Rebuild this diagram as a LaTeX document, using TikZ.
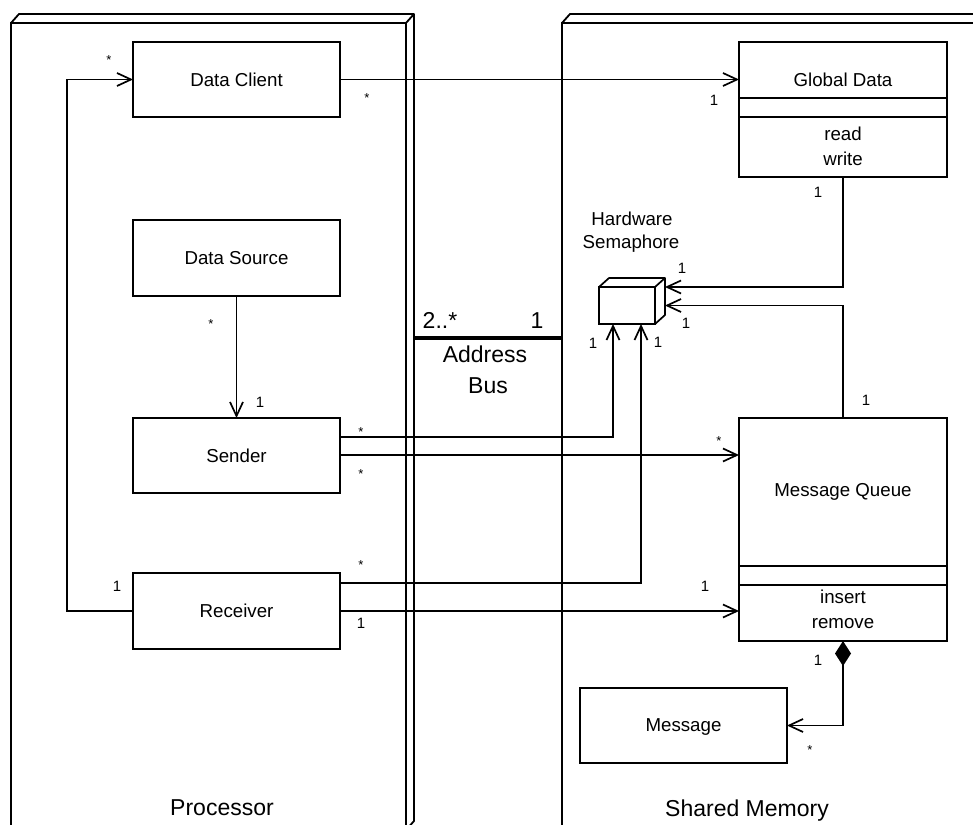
\documentclass[tikz,border=0pt]{standalone}
\usepackage{fontspec}
\setmainfont{Liberation Sans}
\usetikzlibrary{arrows.meta}
\begin{document}
\begin{tikzpicture}[x=1pt,y=-1pt,
  every node/.style={inner sep=0pt, outer sep=0pt},
  box/.style={draw, line width=1.8pt, font=\fontsize{18.7}{22}\selectfont, text depth=0pt},
  boxtxt/.style={font=\fontsize{18.7}{22}\selectfont, anchor=base},
  mult/.style={font=\fontsize{15}{18}\selectfont},
  star/.style={font=\fontsize{13}{15}\selectfont, yshift=-3pt},
  big/.style={font=\fontsize{23}{27}\selectfont, anchor=base},
  conn/.style={line width=1.7pt},
  assoc/.style={conn, -{Straight Barb[length=14pt,width=13pt]}},
  deviceline/.style={line width=1.8pt, line join=round}
]
\useasboundingbox (0,0) rectangle (973,824);
\begin{scope}
\clip (0,0) rectangle (973,824);
% Processor device
\node[box, anchor=north west, minimum width=395pt, minimum height=807pt] (proc) at (11,23) {};
\draw[deviceline] (proc.north west) -- ++(8,-9) -- ++(395,0) -- ++(0,807) -- ++(-8,9);
\draw[deviceline] (proc.north east) -- ++(8,-9);
% Shared memory device
\node[box, anchor=north west, minimum width=450pt, minimum height=807pt] (shm) at (562,23) {};
\draw[deviceline] (shm.north west) -- ++(8,-9) -- ++(450,0);
\end{scope}

% Address bus
\coordinate (busL) at (415,338);
\coordinate (busR) at (shm.west |- 0,338);
\draw[line width=3.5pt] (busL) -- (busR);
\node[big] (b2) at (440,328) {2..*};
\node[big] (b1) at (537,328) {1};
\node[big] (baddr) at (485,362) {Address};
\node[big] (bbus) at (488,393) {Bus};

% Processor classes
\node[box, minimum width=207pt, minimum height=75pt] (dc) at (236.5,79.5) {Data Client};
\node[box, minimum width=207pt, minimum height=76pt] (ds) at (236.5,258) {Data Source};
\node[box, minimum width=207pt, minimum height=75pt] (sn) at (236.5,455.5) {Sender};
\node[box, minimum width=207pt, minimum height=76pt] (rc) at (236.5,611) {Receiver};

% Global Data
\node[box, minimum width=208pt, minimum height=135pt] (gd) at (843,109.5) {};
\draw[line width=1.8pt] (gd.west |- 0,98) -- (gd.east |- 0,98);
\draw[line width=1.8pt] (gd.west |- 0,117) -- (gd.east |- 0,117);
\node[boxtxt] (gdn) at (843,86.6) {Global Data};
\node[boxtxt] (gdr) at (843,140) {read};
\node[boxtxt] (gdw) at (843,165) {write};

% Message Queue
\node[box, minimum width=208pt, minimum height=223pt] (mq) at (843,529.5) {};
\draw[line width=1.8pt] (mq.west |- 0,566) -- (mq.east |- 0,566);
\draw[line width=1.8pt] (mq.west |- 0,585) -- (mq.east |- 0,585);
\node[boxtxt] (mqn) at (843,496) {Message Queue};
\node[boxtxt] (mqi) at (843,603) {insert};
\node[boxtxt] (mqr) at (843,628) {remove};

% Message
\node[box, minimum width=207pt, minimum height=75pt] (msg) at (683.5,725.5) {Message};

% Hardware semaphore
\node[draw, conn, minimum width=56pt, minimum height=37pt] (hs) at (627,305.5) {};
\draw[conn, line join=round] (hs.north west) -- ++(10,-9) -- ++(56,0) -- ++(0,37) -- ++(-10,9);
\draw[conn] (hs.north east) -- ++(10,-9);
\node[boxtxt] (hsa) at (632,225) {Hardware};
\node[boxtxt] (hsb) at (631,248) {Semaphore};

% Connectors
\draw[assoc] (dc.east) -- (dc.east -| gd.west);
\draw[assoc] (rc.west) -- ++(-66,0) |- (dc.west);
\draw[assoc] (ds.south) -- (sn.north);
\draw[assoc] (sn.east |- 0,437) -| ([xshift=-14pt]hs.south);
\draw[assoc] (sn.east |- 0,455) -- (mq.west |- 0,455);
\draw[assoc] (rc.east |- 0,583) -| ([xshift=14pt]hs.south);
\draw[assoc] (rc.east) -- (rc.east -| mq.west);
\draw[assoc] (gd.south) |- ([xshift=10pt]hs.north east);
\draw[assoc] (mq.north) |- ([xshift=10pt]hs.east);
\draw[conn, {Diamond[length=25pt,width=16pt]}-{Straight Barb[length=14pt,width=13pt]}] (mq.south) |- (msg.east);

% Multiplicities
\node[star] (s1) at (109,57) {*};
\node[star] (s2) at (367,95) {*};
\node[star] (s3) at (211,321) {*};
\node[star] (s4) at (361,429) {*};
\node[star] (s5) at (361,471) {*};
\node[star] (s6) at (719,438) {*};
\node[star] (s7) at (361,562) {*};
\node[star] (s8) at (810,747) {*};
\node[mult] (o1) at (714,100) {1};
\node[mult] (o2) at (818,192) {1};
\node[mult] (o3) at (682,268) {1};
\node[mult] (o4) at (686,323) {1};
\node[mult] (o5) at (593,343) {1};
\node[mult] (o6) at (658,342) {1};
\node[mult] (o7) at (260,402) {1};
\node[mult] (o8) at (705,586) {1};
\node[mult] (o9) at (361,623) {1};
\node[mult] (o10) at (117,586) {1};
\node[mult] (o11) at (866,400) {1};
\node[mult] (o12) at (818,660) {1};

% Device labels
\node[big] (lproc) at (222,815) {Processor};
\node[big] (lshm) at (747,816) {Shared Memory};
\end{tikzpicture}
\end{document}
